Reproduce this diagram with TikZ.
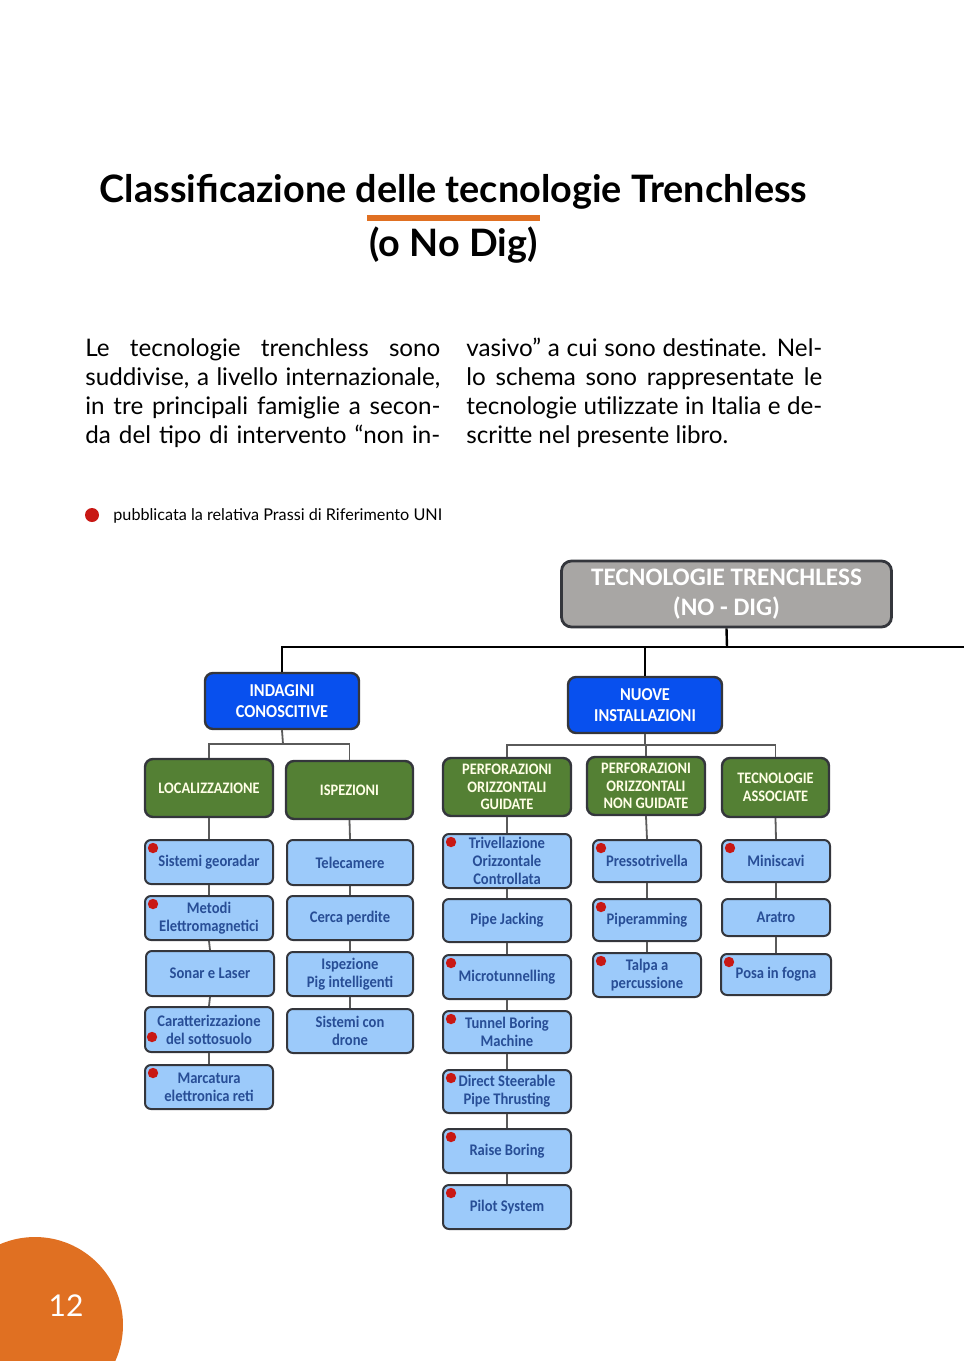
\documentclass[tikz,border=0pt]{standalone}
\usepackage{fontspec}
\usepackage{xcolor}
\usetikzlibrary{calc}
\setmainfont{Lato}
\newfontfamily\titlefont{Lato}
\newfontfamily\bodyfont{Lato}
\newfontfamily\boxfont[FakeStretch=0.9]{Carlito}
\newfontfamily\rootfont{Carlito}

\definecolor{pageorange}{RGB}{224,112,34}
\definecolor{rootgray}{RGB}{168,166,164}
\definecolor{headblue}{RGB}{8,80,238}
\definecolor{groupgreen}{RGB}{84,128,52}
\definecolor{leafblue}{RGB}{156,202,250}
\definecolor{leaftext}{RGB}{40,78,150}
\definecolor{edgedark}{RGB}{52,54,60}
\definecolor{linkgray}{RGB}{90,90,90}
\definecolor{unired}{RGB}{200,24,20}

\begin{document}
\begin{tikzpicture}[x=0.5pt,y=-0.5pt,
    box/.style={draw=edgedark,line width=1pt,rounded corners=3pt,align=center,inner sep=0.5pt},
    rootbox/.style={box,fill=rootgray,line width=1.4pt,rounded corners=5pt,text=white,
        font=\rootfont\bfseries\fontsize{12.6}{15}\selectfont,minimum width=165pt,minimum height=33pt},
    headbox/.style={box,fill=headblue,line width=1.2pt,rounded corners=4pt,text=white,
        font=\boxfont\bfseries\fontsize{9.1}{10.5}\selectfont,minimum width=77pt,minimum height=28pt},
    groupbox/.style={box,fill=groupgreen,line width=1.2pt,rounded corners=4pt,text=white!90!yellow,
        font=\boxfont\bfseries\fontsize{8}{8.8}\selectfont,minimum width=64pt,minimum height=29pt},
    leafbox/.style={box,fill=leafblue,text=leaftext,
        font=\boxfont\bfseries\fontsize{8.1}{8.9}\selectfont,minimum width=64pt,minimum height=22pt},
    link/.style={draw=linkgray,line width=0.9pt},
    mainlink/.style={draw=black,line width=1.2pt},
    unidot/.style={fill=unired}]

\useasboundingbox (0,0) rectangle (964,1361);

% titolo e testo
\node[font=\titlefont\bfseries\fontsize{18.9}{22}\selectfont,anchor=base] (title) at (453.5,202) {Classificazione delle tecnologie Trenchless};
\node[font=\titlefont\bfseries\fontsize{18.9}{22}\selectfont,anchor=base] (subtitle) at (453.5,256) {(o No Dig)};
\draw[draw=pageorange,line width=2.6pt] (367,218) coordinate (barl) -- (540,218) coordinate (barr);

\node[font=\bodyfont\fontsize{12.1}{14.5}\selectfont,anchor=base west,inner sep=0pt] (left1) at (85,356) {\makebox[177.5pt][s]{Le tecnologie trenchless sono}};
\node[font=\bodyfont\fontsize{12.1}{14.5}\selectfont,anchor=base west,inner sep=0pt] (left2) at (85,385) {\makebox[177.5pt][s]{suddivise, a livello internazionale,}};
\node[font=\bodyfont\fontsize{12.1}{14.5}\selectfont,anchor=base west,inner sep=0pt] (left3) at (85,414) {\makebox[177.5pt][s]{in tre principali famiglie a secon-}};
\node[font=\bodyfont\fontsize{12.1}{14.5}\selectfont,anchor=base west,inner sep=0pt] (left4) at (85,443) {\makebox[177.5pt][s]{da del tipo di intervento “non in-}};
\node[font=\bodyfont\fontsize{12.1}{14.5}\selectfont,anchor=base west,inner sep=0pt] (right1) at (466,356) {\makebox[178pt][s]{vasivo” a cui sono destinate. Nel-}};
\node[font=\bodyfont\fontsize{12.1}{14.5}\selectfont,anchor=base west,inner sep=0pt] (right2) at (466,385) {\makebox[178pt][s]{lo schema sono rappresentate le}};
\node[font=\bodyfont\fontsize{12.1}{14.5}\selectfont,anchor=base west,inner sep=0pt] (right3) at (466,414) {\makebox[178pt][s]{tecnologie utilizzate in Italia e de-}};
\node[font=\bodyfont\fontsize{12.1}{14.5}\selectfont,anchor=base west,inner sep=0pt] (right4) at (466,443) {scritte nel presente libro.};

\fill[unidot] (92,515) circle (3.5pt);
\node[font=\bodyfont\fontsize{8.1}{10}\selectfont,anchor=base west,inner sep=0pt] (legend) at (113,520) {pubblicata la relativa Prassi di Riferimento UNI};

% schema
\node[rootbox] (root) at (726.5,594) {TECNOLOGIE TRENCHLESS\\(NO - DIG)};
\node[headbox] (ind) at (282,701) {INDAGINI\\CONOSCITIVE};
\node[headbox] (nuove) at (645,705) {NUOVE\\INSTALLAZIONI};

\node[groupbox] (loc) at (209,788) {LOCALIZZAZIONE};
\node[groupbox,minimum width=63.5pt] (isp) at (349.5,790) {ISPEZIONI};
\node[groupbox] (pog) at (507,787) {PERFORAZIONI\\ORIZZONTALI\\GUIDATE};
\node[groupbox,minimum width=59pt] (pong) at (646,786) {PERFORAZIONI\\ORIZZONTALI\\NON GUIDATE};
\node[groupbox,minimum width=53.5pt,minimum height=29.5pt] (tass) at (775.5,787.5) {TECNOLOGIE\\ASSOCIATE};

\node[leafbox] (geo) at (209,862) {Sistemi georadar};
\node[leafbox] (elettro) at (209,918) {Metodi\\Elettromagnetici};
\node[leafbox,minimum height=22.5pt] (sonar) at (210,973.5) {Sonar e Laser};
\node[leafbox,minimum height=22.5pt] (caratt) at (209,1029.5) {Caratterizzazione\\del sottosuolo};
\node[leafbox] (marc) at (209,1087) {Marcatura\\elettronica reti};

\node[leafbox,minimum width=63pt,minimum height=22.5pt] (tele) at (350,862.5) {Telecamere};
\node[leafbox,minimum width=63pt] (cerca) at (350,918) {Cerca perdite};
\node[leafbox,minimum width=63pt] (pig) at (350,974) {Ispezione\\Pig intelligenti};
\node[leafbox,minimum width=63pt] (drone) at (350,1031) {Sistemi con\\drone};

\node[leafbox,minimum height=27pt] (toc) at (507,861) {Trivellazione\\Orizzontale\\Controllata};
\node[leafbox,minimum height=21.5pt] (pj) at (507,920.5) {Pipe Jacking};
\node[leafbox] (micro) at (507,977) {Microtunnelling};
\node[leafbox,minimum height=21pt] (tbm) at (507,1032) {Tunnel Boring\\Machine};
\node[leafbox,minimum height=21.5pt] (dspt) at (507,1091.5) {Direct Steerable\\Pipe Thrusting};
\node[leafbox] (raise) at (507,1151) {Raise Boring};
\node[leafbox] (pilot) at (507,1207) {Pilot System};

\node[leafbox,minimum width=54pt,minimum height=21pt] (presso) at (647,861) {Pressotrivella};
\node[leafbox,minimum width=54pt,minimum height=21pt] (piper) at (647,920) {Piperamming};
\node[leafbox,minimum width=54pt] (talpa) at (647,975) {Talpa a\\percussione};

\node[leafbox,minimum width=54pt,minimum height=21pt] (mini) at (776,861) {Miniscavi};
\node[leafbox,minimum width=54pt,minimum height=18.5pt] (aratro) at (776,917.5) {Aratro};
\node[leafbox,minimum width=55pt,minimum height=20.5pt] (posa) at (776,974.5) {Posa in fogna};

% collegamenti
\coordinate (topfork) at (727,647);
\coordinate (offpage) at (964,647);
\draw[mainlink] (root.south) -- (topfork);
\draw[mainlink] (ind.north) |- (offpage);
\draw[mainlink] (nuove.north) -- (nuove.north |- topfork);

\coordinate (indfork) at (283,744);
\coordinate (nuovefork) at (645,745);
\draw[link] (ind.south) -- (indfork);
\draw[link] (loc.north) |- (indfork) -| (isp.north);
\draw[link] (nuove.south) -- (nuovefork);
\draw[link] (pog.north) |- (nuovefork) -| (tass.north);
\draw[link] (pong.north) -- (pong.north |- nuovefork);

\foreach \a/\b in {loc/geo,geo/elettro,elettro/sonar,sonar/caratt,caratt/marc,
    isp/tele,tele/cerca,cerca/pig,pig/drone,
    pog/toc,toc/pj,pj/micro,micro/tbm,tbm/dspt,dspt/raise,raise/pilot,
    pong/presso,presso/piper,piper/talpa,
    tass/mini,mini/aratro,aratro/posa}
  \draw[link] (\a.south) -- (\b.north);

% prassi UNI
\foreach \n in {geo,elettro,marc,toc,micro,tbm,dspt,raise,pilot,presso,piper,talpa,mini,posa}
  \fill[unidot] ([shift={(9,9)}]\n.north west) circle (2.6pt);
\fill[unidot] ([shift={(8,31)}]caratt.north west) circle (2.6pt);

% numero di pagina
\begin{scope}
  \clip (0,0) rectangle (964,1361);
  \fill[pageorange] (35,1325) circle (44pt);
\end{scope}
\node[text=white,font=\fontsize{15}{18}\selectfont] (pagenum) at (66,1306) {12};

\end{tikzpicture}
\end{document}
